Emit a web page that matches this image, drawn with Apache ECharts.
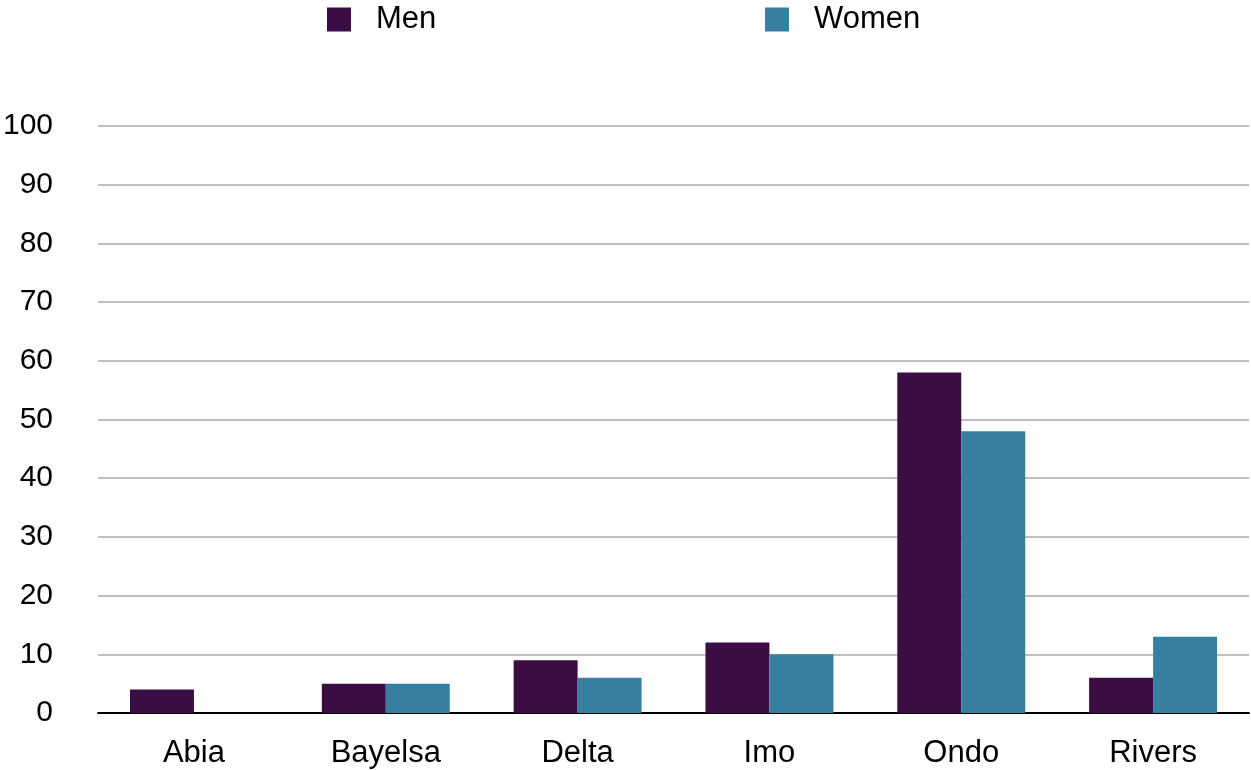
<!DOCTYPE html>
<html>
<head>
<meta charset="utf-8">
<script src="https://cdn.jsdelivr.net/npm/echarts@6/dist/echarts.min.js"></script>
<style>
  html, body { margin: 0; padding: 0; background: #fff; }
  #chart { width: 1251px; height: 770px; }
</style>
</head>
<body>
<div id="chart"></div>
<script>
// data
const states = ['Abia', 'Bayelsa', 'Delta', 'Imo', 'Ondo', 'Rivers']
const men = [4, 5, 9, 12, 58, 6]
const women = [0, 5, 6, 10, 48, 13]
const yTicks = { min: 0, max: 100, step: 10 }

const font = 'Liberation Sans, Arial, sans-serif'
const chart = echarts.init(document.getElementById('chart'))

function legendItem(name, left) {
  return {
    data: [name],
    left: left,
    top: 4,
    padding: 0,
    itemWidth: 24,
    itemHeight: 24,
    icon: 'rect',
    textStyle: { color: '#000', fontSize: 31, fontFamily: font, padding: [0, 0, 0, 20] }
  }
}

chart.setOption({
  animation: false,
  legend: [legendItem('Men', 327), legendItem('Women', 765)],
  grid: {
    left: 98,
    right: 2,
    top: 126,
    bottom: 57
  },
  xAxis: {
    type: 'category',
    data: states,
    axisLine: { lineStyle: { color: '#000', width: 2 } },
    axisTick: { show: false },
    axisLabel: { color: '#000', fontSize: 31, fontFamily: font, margin: 25 }
  },
  yAxis: {
    type: 'value',
    min: yTicks.min,
    max: yTicks.max,
    interval: yTicks.step,
    axisLine: { show: false },
    axisTick: { show: false },
    axisLabel: { color: '#000', fontSize: 30, fontFamily: font, margin: 45 },
    splitLine: { lineStyle: { color: '#bfbfbf', width: 2 } }
  },
  series: [
    {
      name: 'Men',
      type: 'bar',
      data: men,
      barGap: '0%',
      barCategoryGap: '33.3%',
      itemStyle: { color: '#3c0d45' }
    },
    {
      name: 'Women',
      type: 'bar',
      data: women,
      itemStyle: { color: '#367f9f' }
    }
  ]
})
</script>
</body>
</html>
